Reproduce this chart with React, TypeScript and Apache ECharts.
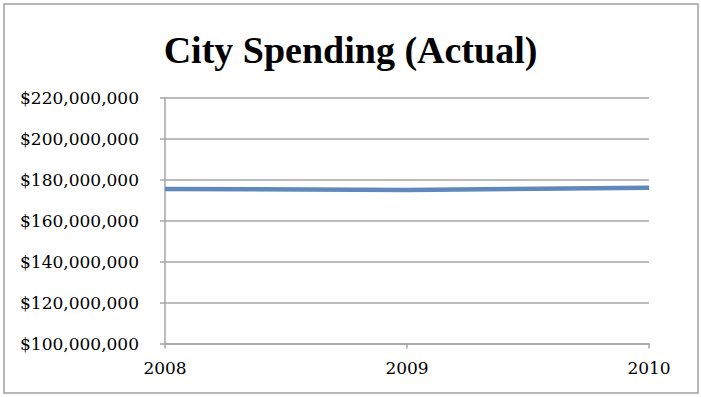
import React, { useEffect, useRef } from "react";
import * as echarts from "echarts";

const years = ["2008", "2009", "2010"];
const spending = [175400000, 174900000, 176000000];
const yMin = 100000000;
const yMax = 220000000;
const yStep = 20000000;
const titleText = "City Spending (Actual)";

function fmt(v: number): string {
  return "$" + Math.round(v).toString().replace(/\B(?=(\d{3})+(?!\d))/g, ",");
}

export default function App() {
  const ref = useRef<HTMLDivElement>(null);
  useEffect(() => {
    if (!ref.current) return;
    const chart = echarts.init(ref.current, null, { renderer: "svg" });
    const grey = "#a6a6a6";
    chart.setOption({
      animation: false,
      backgroundColor: "#ffffff",
      title: {
        text: titleText,
        left: "center",
        top: 26,
        textStyle: {
          fontFamily: "Liberation Serif",
          fontWeight: "bold",
          fontSize: 38,
          color: "#000000",
        },
      },
      graphic: [
        {
          type: "rect",
          shape: { x: 4, y: 4, width: 694, height: 389 },
          style: { fill: "none", stroke: "#a0a0a0", lineWidth: 1.5 },
          silent: true,
        },
      ],
      grid: { left: 165, right: 52, top: 97.5, bottom: 53.5, containLabel: false },
      xAxis: {
        type: "category",
        data: years,
        boundaryGap: false,
        axisLine: { show: true, lineStyle: { color: grey, width: 1.5 } },
        axisTick: { show: true, length: 5, lineStyle: { color: grey, width: 1.5 } },
        axisLabel: {
          margin: 16,
          fontFamily: "DejaVu Serif",
          fontSize: 17,
          color: "#000000",
        },
        splitLine: { show: false },
      },
      yAxis: {
        type: "value",
        min: yMin,
        max: yMax,
        interval: yStep,
        axisLine: { show: true, lineStyle: { color: grey, width: 1.5 } },
        axisTick: { show: true, length: 5, lineStyle: { color: grey, width: 1.5 } },
        axisLabel: {
          margin: 26,
          fontFamily: "DejaVu Serif",
          fontSize: 17,
          color: "#000000",
          formatter: (v: number) => fmt(v),
        },
        splitLine: { show: true, lineStyle: { color: grey, width: 1.5 } },
      },
      series: [
        {
          type: "line",
          data: spending,
          symbol: "none",
          lineStyle: { color: "#6088bb", width: 4.5 },
        },
      ],
    });
    return () => chart.dispose();
  }, []);
  return (
    <div
      ref={ref}
      style={{ position: "fixed", left: 0, top: 0, width: 701, height: 397 }}
    />
  );
}
